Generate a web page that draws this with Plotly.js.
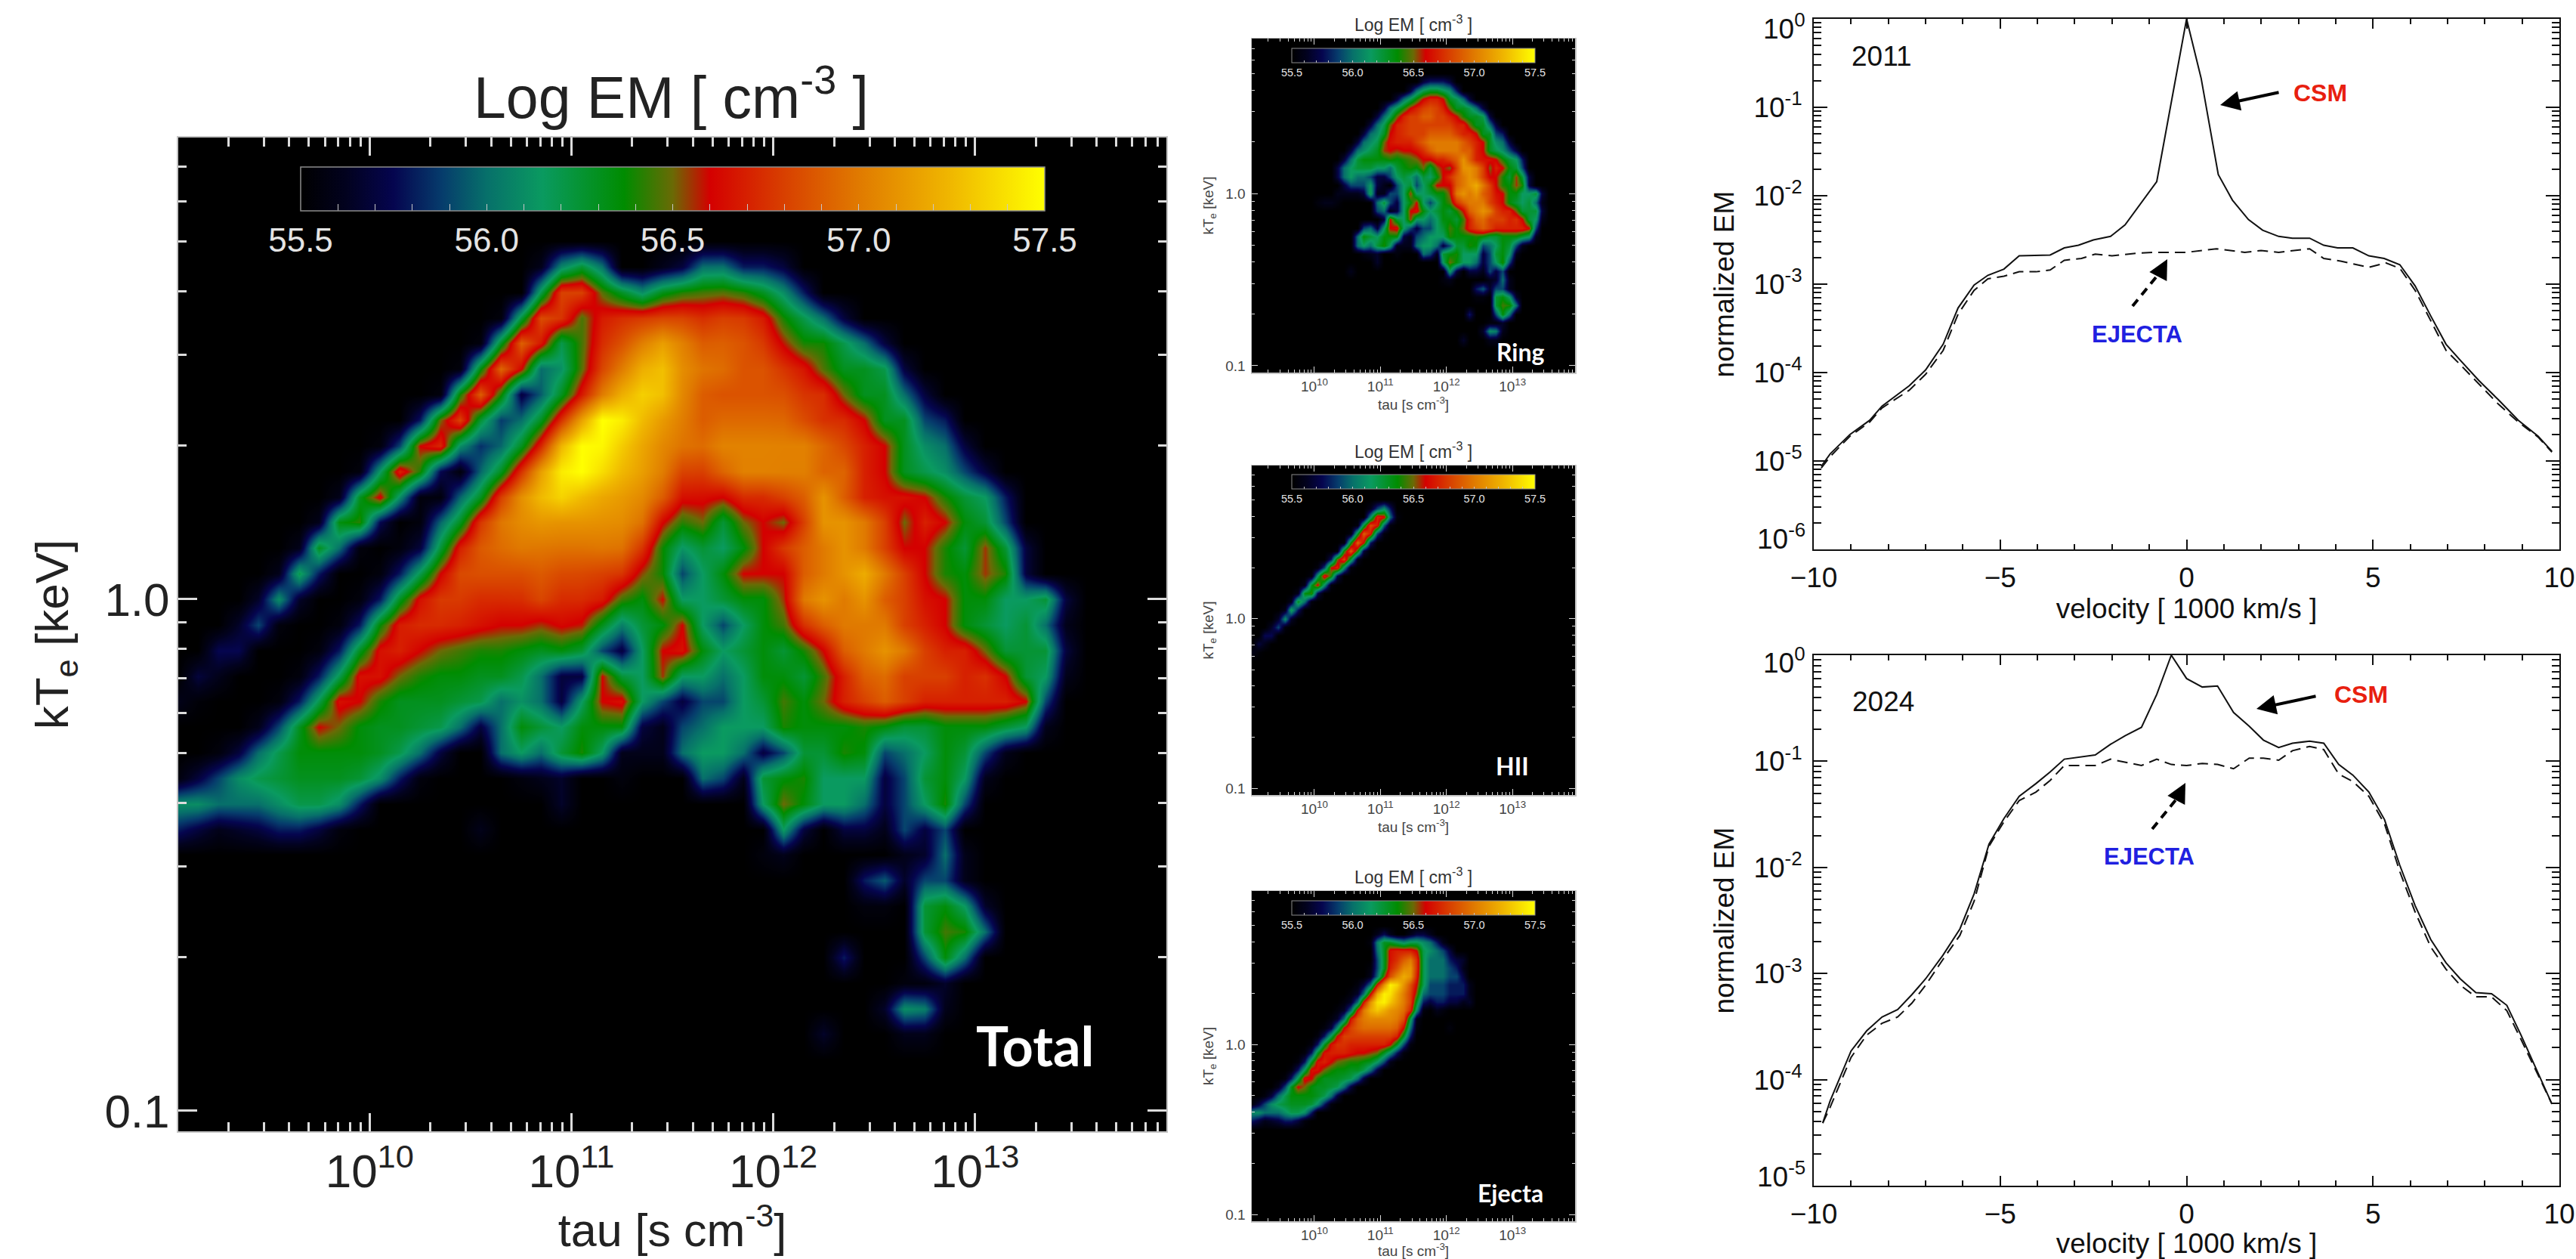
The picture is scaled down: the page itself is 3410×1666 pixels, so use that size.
<!DOCTYPE html>
<html><head><meta charset="utf-8">
<script src="https://cdn.plot.ly/plotly-3.0.1.min.js"></script>
<style>html,body{margin:0;padding:0;background:#fff}</style></head>
<body><div id="chart" style="width:3410px;height:1666px"></div>
<script>
// Heatmap cells: [row, firstColumn, values...], values are tenths of a dex above 55.5.
const logTauStart = 9.05, logTauStep = 0.1, columnCount = 50;
const logTempStart = 0.90, logTempStep = -0.05, rowCount = 40;
const ringCells = [
[5,26,2,3,3,3,2],
[6,24,2,5,7,8,8,7,6,3],
[7,22,2,5,7,9,11,12,12,11,8,7,5,2],
[8,20,2,5,7,9,11,12,13,13.5,13,12,10,8,8,7,5,2],
[9,19,2,5,7,10,12,13,13,14,14,13,13,12,11,9,8,8,7,2],
[10,18,2,5,7,10,12,12.5,13,13,13,13,13,13,13,12,12,10,8,8,5,2],
[11,17,2,5,6,8,11,12,12.5,13,13,13,14,14,14,14,13,12,12,11,8,8,4,3],
[12,16,2,5,6,7,10,11.5,12,12,12,13,14,15,15,15,15,15,14,13,12,11,8,6,5,2],
[13,15,2,5,6,7,8,10.5,11,10.5,11,11,11.5,12.5,14,15,15,15,15,14,14,12,11,8,7,6,4,2],
[14,14,2,5,7.5,8.5,8.5,8.5,8.5,9,8.5,9,9.5,10,11,11,12,12,13,14,16,14,12,11.5,11.5,11,9,7.5,6.5,3],
[15,13,2,5,6.5,7.5,7.5,7.5,6.5,6.5,5,7.5,8.5,9,8.5,10,7.5,10,11,10,13,16,16,15,13,10,12,11,8.5,7.5,4],
[16,13,2,5,6.5,5,5,4,2,2,4,6.5,7.5,6.5,5,7.5,6.5,8.5,11,12.5,14,15,16,15,13,11,11,9,7.5,10.5,7.5,2],
[17,14,2,4,4,4,6.5,2,1,0,4,6.5,7.5,4,6.5,8.5,11,11,11,14,15,16,17,15,13,11,9,8.5,10.5,9,2],
[18,13,1,1,1,1,2,7,1,1,4,4,6.5,10.5,6.5,6.5,7.5,8.5,8.5,10.5,15,16,15,16,14,13,11.5,11,8.5,8.5,6.5,6.5,7.5,2],
[19,10,0.5,1,1,0.5,0,0,0,0,0,5,7.5,4,2,6.5,8.5,11,6.5,4,6.5,8.5,9.5,12.5,14,15,15,15,13,12,11,8.5,7.5,6.5,7.5,5,1],
[20,19,4,5,1,2,6.5,11,11.5,8.5,6.5,7.5,8.5,7.5,9,11,14,15,16,15,13,12,12,10,7.5,7.5,7.5,2],
[21,20,2,11,7.5,6.5,10.5,6.5,6.5,5,6.5,8.5,8.5,7.5,9.5,12,14,14.5,13,13,13,12,12.5,11,7.5,6.5,1],
[22,17,4,5,2,6.5,11,11.5,6.5,4,2,4,4,6.5,7.5,9.5,8.5,10,12,13,14,13,12,12,12,12,12,11,4],
[23,16,5,8.5,7.5,6.5,8.5,8.5,8.5,2,1,4,5,6.5,6.5,6.5,9,8.5,8.5,8.5,9,8.5,7.5,7.5,8.5,8.5,8.5,7.5,6.5,1],
[24,16,5,6.5,5,7.5,9,6.5,1,1,1,5,6.5,6.5,5,2,4,7.5,7.5,9,8.5,4,5,6.5,8.5,7.5,4,1],
[25,17,0.5,1,1.5,0,0,0.5,0,0,0,5,4,1,7.5,8.5,9,6.5,6.5,6.5,2,4,7.5,8.5,6.5,1],
[26,19,1.5],[26,29,6.5,10,8.5,6.5,6.5,5,2,4,6.5,9,4],
[27,15,1],[27,30,6.5,2,0,2,2,1,4,2,4],
[28,29,0.5,1,0,0,0,0,0,1,1.5,5,1],
[29,34,3,4.5,1.5,4,4,1],
[30,34,0.5,0.5,0,7.5,8.5,6.5,1.5],
[31,37,7.5,9.5,9,5],
[32,33,3,0,0,0,4,8.5,5],
[33,36,0.5,0.5,1.5],
[34,35,1.5,6,5.5,1],
[35,32,1.5],[35,36,1,1]
];
const hiiCells = [
[5,18,1,4,6,3],
[6,18,6,12.2,11.4,5,0.5],
[7,16,0.5,7.5,13.4,11.8,4.5,0.5],
[8,15,0.5,8,14.1,11.7,4,0.5],
[9,14,0.5,8.5,14.3,11.1,3,0],
[10,13,0.5,9,14,9,2],
[11,12,3,10,13.1,7.5,1],
[12,10,0.5,4,11,12.2,6,0.5],
[13,9,0.5,6.5,12.1,9,2.5],
[14,8,1,8,11.3,6,0.5],
[15,7,1,8.4,9.2,2.5],
[16,6,1,8,5,0.5],
[17,5,1,7,3],
[18,4,1.5,6,1.5],
[19,3,1.5,4,0.5],
[20,2,2.5,2.5],
[21,1,2,1],
[22,0,1,0.3]
];
const ejectaCells = [
[5,19,1,2.5,1,0,0,1,2,2,1],
[6,18,0.5,5.5,8,8,7,6,7,7,6,5,3,1],
[7,19,5,8,11.5,12,12,12,11,7,6,5,4,2],
[8,19,4,8,11.5,12.5,14,15,12.5,7,5,5,5,3,2,1.5],
[9,18,0.5,4,8,12,13.5,15.5,16,12.5,7,5,5,5,4,3,1],
[10,18,1,5,10,13.5,15.5,17,16,12,7,5,5,5,4,4,2],
[11,16,0.5,2,5,11.5,16,19.5,18.5,16,13.5,11,7,4,4,4,3,3,3,1],
[12,15,0.5,1.5,5,11,17,19.5,19,17,15,13,10,5,4,4,4,3,3,3,1],
[13,14,0.5,1.5,5,11.5,16,19,19.5,18,16.5,15,13,8,3,2,3,3,2,2,1,1.5],
[14,13,0.5,1.5,5,11.5,15,17,18,17,16,15.5,14.5,12,6,0.5,0,1,0.5],
[15,12,0.5,1.5,5,11.5,14,15,15.5,15.5,15.5,15.5,15,13.5,7,1],
[16,11,0.5,2,6,11,13,14,14.5,14.5,14.5,14.5,14.5,14,11,5,0.5],[16,30,0.5],
[17,10,0.5,3,7,11,13,13,13,13,13,13,13,13,12,8,3],
[18,9,0.5,3,8,11.5,12.5,12.5,12,12,12,12,12,12,11,8,4,0.5],
[19,8,0.5,3,8,11.5,12,12,12,11.5,11,11,10.5,10,8,6,3,0.5],
[20,7,0.5,3,8,11.5,12,11,10,9.5,9,9,8.5,8,6.5,4,1],
[21,6,0.5,3,7,11.5,11.5,10,9,8.5,8.5,8,8,7,5,2],
[22,5,0.5,3,7,11.5,11,9,8,8,8,7.5,7,5,2],
[23,4,1,4,8,11,10,8.5,8,8,7.5,7,5,2],
[24,2,0.5,2,5,7,8.5,8.5,8.5,8.5,8,7,5,2],
[25,0,0.5,2,4,6,7,7.5,8,8,8,7.5,6,3,0.5],
[26,0,6,6,5,5,5,6,7,7,6,3],
[27,0,3,2,1,1.5,2,3,3,2,0.5]
];

// Velocity profiles: velocity in 1000 km/s, log10 of normalized EM.
const vel2011 = [-9.8,-9.56,-9.03,-8.5,-8.17,-7.44,-7,-6.53,-6.13,-5.7,-5.33,-4.9,-4.49,-3.66,-3.28,-2.9,-2.5,-2.04,-1.65,-1.16,-0.8,0,0.39,0.85,1.23,1.66,2.04,2.47,2.84,3.3,3.68,4.05,4.46,4.89,5.3,5.72,6.13,6.55,6.96,7.34,7.84,8.37,8.9,9.43,9.8];
const csm2011 = [-5.06,-4.92,-4.7,-4.54,-4.38,-4.15,-3.97,-3.68,-3.27,-3.01,-2.9,-2.83,-2.68,-2.67,-2.59,-2.56,-2.5,-2.46,-2.33,-2.05,-1.84,0,-0.67,-1.76,-2.05,-2.27,-2.39,-2.46,-2.48,-2.48,-2.56,-2.59,-2.59,-2.68,-2.71,-2.78,-3.02,-3.36,-3.68,-3.86,-4.09,-4.31,-4.54,-4.72,-4.89];
const velEj2011 = [-9.8,-9.56,-9.03,-8.5,-8.17,-7.44,-7,-6.53,-6.13,-5.7,-5.33,-4.9,-4.49,-4.04,-3.66,-3.28,-2.82,-2.45,-2,-1.32,-0.86,0,0.8,1.56,2,2.47,3.3,3.68,4.13,4.89,5.34,5.72,6.13,6.55,6.96,7.34,7.84,8.37,8.9,9.43,9.8];
const ejecta2011 = [-5.08,-4.95,-4.72,-4.56,-4.4,-4.2,-4.02,-3.75,-3.34,-3.07,-2.94,-2.91,-2.86,-2.86,-2.84,-2.73,-2.71,-2.66,-2.68,-2.65,-2.64,-2.64,-2.6,-2.64,-2.62,-2.64,-2.6,-2.71,-2.74,-2.81,-2.76,-2.82,-3.07,-3.41,-3.75,-3.91,-4.13,-4.36,-4.56,-4.73,-4.9];
const vel2024 = [-9.76,-9.56,-9,-8.58,-8.17,-7.75,-7.37,-7,-6.54,-6.08,-5.7,-5.3,-4.9,-4.49,-4.04,-3.66,-3.28,-2.45,-2.04,-1.65,-1.21,-0.8,-0.41,0,0.42,0.83,1.26,1.68,2.06,2.47,2.84,3.3,3.68,4.08,4.46,4.89,5.31,5.72,6.13,6.55,6.96,7.34,7.76,8.18,8.59,8.97,9.43,9.8];
const csm2024 = [-4.41,-4.2,-3.73,-3.54,-3.41,-3.34,-3.2,-3.05,-2.83,-2.58,-2.25,-1.78,-1.54,-1.33,-1.21,-1.1,-0.98,-0.94,-0.84,-0.76,-0.68,-0.37,0,-0.22,-0.3,-0.29,-0.54,-0.67,-0.8,-0.87,-0.83,-0.81,-0.83,-1.03,-1.13,-1.29,-1.55,-1.98,-2.36,-2.68,-2.9,-3.05,-3.18,-3.19,-3.3,-3.58,-3.94,-4.23];
const ejecta2024 = [-4.41,-4.26,-3.79,-3.58,-3.47,-3.41,-3.28,-3.11,-2.87,-2.64,-2.32,-1.8,-1.57,-1.37,-1.29,-1.18,-1.04,-1.04,-0.98,-1.01,-1.04,-0.98,-1.03,-1.04,-1.02,-1.03,-1.07,-0.97,-0.97,-0.99,-0.9,-0.86,-0.89,-1.12,-1.19,-1.33,-1.59,-2.04,-2.42,-2.75,-2.96,-3.11,-3.22,-3.22,-3.35,-3.62,-3.96,-4.23];

const emTickVals = [55.5,55.6,55.7,55.8,55.9,56,56.1,56.2,56.3,56.4,56.5,56.6,56.7,56.8,56.9,57,57.1,57.2,57.3,57.4,57.5];
const emTickText = ['55.5','','','','','56.0','','','','','56.5','','','','','57.0','','','','','57.5'];
const emColors = [[0,'#000000'],[0.06,'#02021e'],[0.125,'#05054f'],[0.19,'#063c6c'],[0.25,'#07706a'],[0.325,'#0a9a60'],[0.435,'#008c00'],[0.5,'#6a6a05'],[0.55,'#d40000'],[0.65,'#d84000'],[0.75,'#e07a00'],[0.875,'#f0b800'],[1,'#ffff00']];
const tauTicks = [1e10,1e11,1e12,1e13], tauLabels = ['10<sup>10</sup>','10<sup>11</sup>','10<sup>12</sup>','10<sup>13</sup>'];
const tempTicks = [0.1,1], tempLabels = ['0.1','1.0'];
const decadesA = [1,0.1,0.01,0.001,0.0001,0.00001,0.000001];
const decadeLabelsA = ['','10<sup>-1</sup>','10<sup>-2</sup>','10<sup>-3</sup>','10<sup>-4</sup>','10<sup>-5</sup>',''];
const decadesB = [1,0.1,0.01,0.001,0.0001,0.00001];
const decadeLabelsB = ['','10<sup>-1</sup>','10<sup>-2</sup>','10<sup>-3</sup>','10<sup>-4</sup>',''];

const W = 3410, H = 1666;
const px = v => v / W, py = v => 1 - v / H;
const tauVals = Array.from({length: columnCount}, (_, c) => Math.pow(10, logTauStart + c * logTauStep));
const tempVals = Array.from({length: rowCount}, (_, r) => Math.pow(10, logTempStart + r * logTempStep));
function expand(cells) {
  const g = Array.from({length: rowCount}, () => new Array(columnCount).fill(0));
  cells.forEach(row => { row.slice(2).forEach((v, i) => { g[row[0]][row[1] + i] = v; }); });
  return g;
}
const ringTenths = expand(ringCells), hiiTenths = expand(hiiCells), ejectaTenths = expand(ejectaCells);
const toEM = g => g.map(r => r.map(v => 55.5 + v / 10));
// Total emission measure is the linear sum of the three components.
const totalEM = ringTenths.map((r, i) => r.map((_, j) => {
  let s = 0;
  [ringTenths, hiiTenths, ejectaTenths].forEach(g => { if (g[i][j] > 0) s += Math.pow(10, g[i][j] / 10); });
  return s > 0 ? 55.5 + Math.log10(s) : 55.5;
}));

function heat(z, xa, ya, bar, fs, ol, tl) {
  return {type:'heatmap', x:tauVals, y:tempVals, z:z, xaxis:xa, yaxis:ya, zmin:55.5, zmax:57.5, zsmooth:'best',
    colorscale:emColors, showscale:true, hoverinfo:'skip',
    colorbar:{orientation:'h', x:px(bar[0]), xanchor:'left', y:py(bar[2]), yanchor:'top', len:bar[1]-bar[0], lenmode:'pixels',
      thickness:bar[3]-bar[2], thicknessmode:'pixels', xpad:0, ypad:0, outlinecolor:'#8c8c8c', outlinewidth:ol, borderwidth:0,
      tickmode:'array', tickvals:emTickVals, ticktext:emTickText, ticks:'inside', ticklen:tl, tickwidth:1, tickcolor:'#c8c8c8',
      tickfont:{family:'Liberation Sans', size:fs, color:'#e4e4e4'}}};
}
function heatX(dom, fs, titleFs, stand, lab, lw, tm, tn, tw) {
  return {type:'log', domain:[px(dom[0]),px(dom[1])], range:[9.052,13.948], anchor:lab.y, showgrid:false, zeroline:false,
    showline:true, linecolor:'#c4c4c4', linewidth:lw, mirror:'allticks', ticks:'inside', ticklen:tm, tickwidth:tw, tickcolor:'#dcdcdc',
    tickmode:'array', tickvals:tauTicks, ticktext:tauLabels, tickfont:{family:'Liberation Sans', size:fs, color:lab.c}, ticklabelstandoff:lab.s,
    minor:{ticks:'inside', dtick:'D1', ticklen:tn, tickwidth:tw, tickcolor:'#dcdcdc'},
    title:{text:'tau [s cm<sup>-3</sup>]', font:{family:'Liberation Sans', size:titleFs, color:lab.c}, standoff:stand}};
}
function heatY(dom, fs, titleFs, stand, lab, lw, tm, tn, tw) {
  return {type:'log', domain:[py(dom[1]),py(dom[0])], range:[-1.04,0.9025], anchor:lab.x, showgrid:false, zeroline:false,
    showline:true, linecolor:'#c4c4c4', linewidth:lw, mirror:'allticks', ticks:'inside', ticklen:tm, tickwidth:tw, tickcolor:'#dcdcdc',
    tickmode:'array', tickvals:tempTicks, ticktext:tempLabels, tickfont:{family:'Liberation Sans', size:fs, color:lab.c}, ticklabelstandoff:lab.s,
    minor:{ticks:'inside', dtick:'D1', ticklen:tn, tickwidth:tw, tickcolor:'#dcdcdc'},
    title:{text:'kT<sub>e</sub> [keV]', font:{family:'Liberation Sans', size:titleFs, color:lab.c}, standoff:stand}};
}
function lineX(dom, a) {
  return {domain:[px(dom[0]),px(dom[1])], range:[-10,10], anchor:a, showgrid:false, zeroline:false, showline:true, linecolor:'#111', linewidth:2,
    mirror:'allticks', ticks:'inside', ticklen:13, tickwidth:2, tickcolor:'#111', dtick:5, tickfont:{family:'Liberation Sans', size:37, color:'#111'},
    ticklabelstandoff:4, minor:{ticks:'inside', dtick:1, ticklen:7, tickwidth:2, tickcolor:'#111'},
    title:{text:'velocity [ 1000 km/s ]', font:{family:'Liberation Sans', size:37, color:'#111'}, standoff:8}};
}
function lineY(dom, a, low, vals, labs) {
  return {type:'log', domain:[py(dom[1]),py(dom[0])], range:[low,0], anchor:a, showgrid:false, zeroline:false, showline:true, linecolor:'#111', linewidth:2,
    mirror:'allticks', ticks:'inside', ticklen:18, tickwidth:2, tickcolor:'#111', tickmode:'array', tickvals:vals, ticktext:labs,
    tickfont:{family:'Liberation Sans', size:37, color:'#111'}, ticklabelstandoff:6,
    minor:{ticks:'inside', dtick:'D1', ticklen:10, tickwidth:2, tickcolor:'#111'},
    title:{text:'normalized EM', font:{family:'Liberation Sans', size:37, color:'#111'}, standoff:14}};
}
const powers = a => a.map(v => Math.pow(10, v));
const solid = (x, y, xa, ya, nm) => ({type:'scatter', mode:'lines', name:nm, x:x, y:powers(y), xaxis:xa, yaxis:ya, showlegend:false, line:{color:'#111', width:2}});
const dashed = (x, y, xa, ya, nm) => ({type:'scatter', mode:'lines', name:nm, x:x, y:powers(y), xaxis:xa, yaxis:ya, showlegend:false, line:{color:'#111', width:2, dash:'14px,8px'}});

const data = [
  heat(totalEM,'x','y',[398,1383,221,279],44,1.5,9),
  heat(toEM(ringTenths),'x2','y2',[1710,2032,64,83],14.5,1,3),
  heat(toEM(hiiTenths),'x3','y3',[1710,2032,628,647],14.5,1,3),
  heat(toEM(ejectaTenths),'x4','y4',[1710,2032,1192,1211],14.5,1,3),
  solid(vel2011,csm2011,'x5','y5','CSM 2011'),
  dashed(velEj2011,ejecta2011,'x5','y5','EJECTA 2011'),
  solid(vel2024,csm2024,'x6','y6','CSM 2024'),
  dashed(vel2024,ejecta2024,'x6','y6','EJECTA 2024')
];

const note = (x, y, text, size, color, family, weight) => ({xref:'paper', yref:'paper', x:px(x), y:py(y), text:text, showarrow:false, xanchor:'center', yanchor:'middle',
  font:{family:family||'Liberation Sans', size:size, color:color, weight:weight||400}});
const head = (x0, y0, x1, y1, w) => ({xref:'paper', yref:'paper', x:px(x1), y:py(y1), ax:x0-x1, ay:y0-y1, axref:'pixel', ayref:'pixel', text:'', showarrow:true,
  arrowhead:2, arrowsize:1.3, arrowwidth:w, arrowcolor:'#000', standoff:0, startstandoff:0});
const dashLine = (x0, y0, x1, y1) => ({type:'line', xref:'paper', yref:'paper', x0:px(x0), y0:py(y0), x1:px(x1), y1:py(y1), line:{color:'#000', width:4, dash:'11px,8px'}});
const sideLabel = (y, text) => ({xref:'paper', yref:'paper', x:px(2392), y:py(y), text:text, showarrow:false, xanchor:'right', yanchor:'middle',
  font:{family:'Liberation Sans', size:37, color:'#111'}});
const panelBack = (x0, x1, y0, y1) => ({type:'rect', layer:'below', xref:'paper', yref:'paper', x0:px(x0), x1:px(x1), y0:py(y1), y1:py(y0), fillcolor:'#000', line:{width:0}});

const layout = {
  width:W, height:H, margin:{l:0,r:0,t:0,b:0,pad:0,autoexpand:false}, paper_bgcolor:'#fff', plot_bgcolor:'rgba(0,0,0,0)', showlegend:false,
  xaxis: heatX([236,1544],62,61,0,{y:'y',c:'#222',s:-2},2,24,12,3),
  yaxis: heatY([182,1497],62,62,28,{x:'x',c:'#222',s:-3},2,25,11,3),
  xaxis2: heatX([1657,2085],19,19,0,{y:'y2',c:'#444',s:1},1.5,8,4,1),
  yaxis2: heatY([51,493],19,19,10,{x:'x2',c:'#444',s:3},1.5,8,4,1),
  xaxis3: heatX([1657,2085],19,19,0,{y:'y3',c:'#444',s:1},1.5,8,4,1),
  yaxis3: heatY([616,1052],19,19,10,{x:'x3',c:'#444',s:3},1.5,8,4,1),
  xaxis4: heatX([1657,2085],19,19,0,{y:'y4',c:'#444',s:1},1.5,8,4,1),
  yaxis4: heatY([1179,1616],19,19,10,{x:'x4',c:'#444',s:3},1.5,8,4,1),
  xaxis5: lineX([2401,3388],'y5'),
  yaxis5: lineY([25,727],'x5',-6,decadesA,decadeLabelsA),
  xaxis6: lineX([2401,3388],'y6'),
  yaxis6: lineY([867,1569],'x6',-5,decadesB,decadeLabelsB),
  annotations:[
    note(888,123,'Log EM [ cm<sup>-3</sup> ]',77,'#222'),
    note(1871,31,'Log EM [ cm<sup>-3</sup> ]',23,'#333'),
    note(1871,596,'Log EM [ cm<sup>-3</sup> ]',23,'#333'),
    note(1871,1159,'Log EM [ cm<sup>-3</sup> ]',23,'#333'),
    note(1370,1383,'Total',72,'#fff','Lato',700),
    note(2013,465,'Ring',32,'#fff','Lato',700),
    note(2002,1013,'HII',32,'#fff','Lato',700),
    note(1999,1578,'Ejecta',32,'#fff','Lato',700),
    note(2491,74,'2011',37,'#111'),
    note(2493,928,'2024',37,'#111'),
    note(3071,123,'CSM',32,'#e8200f','Liberation Sans',700),
    note(3125,919,'CSM',32,'#e8200f','Liberation Sans',700),
    note(2829,443,'EJECTA',31,'#2020e0','Liberation Sans',700),
    note(2845,1133,'EJECTA',31,'#2020e0','Liberation Sans',700),
    sideLabel(35,'10<sup>0</sup>'), sideLabel(710,'10<sup>-6</sup>'),
    sideLabel(874,'10<sup>0</sup>'), sideLabel(1554,'10<sup>-5</sup>'),
    head(3018,122,2939,139,4),
    head(3067,921,2987,938,4),
    head(2860,360,2869,343,4),
    head(2884,1053,2893,1036,4)
  ],
  shapes:[panelBack(236,1544,182,1497), panelBack(1657,2085,51,493), panelBack(1657,2085,616,1052), panelBack(1657,2085,1179,1616),
    dashLine(2823,405,2862,357), dashLine(2849,1097,2887,1050)]
};
Plotly.newPlot('chart', data, layout, {displayModeBar:false, staticPlot:true});
</script></body></html>
